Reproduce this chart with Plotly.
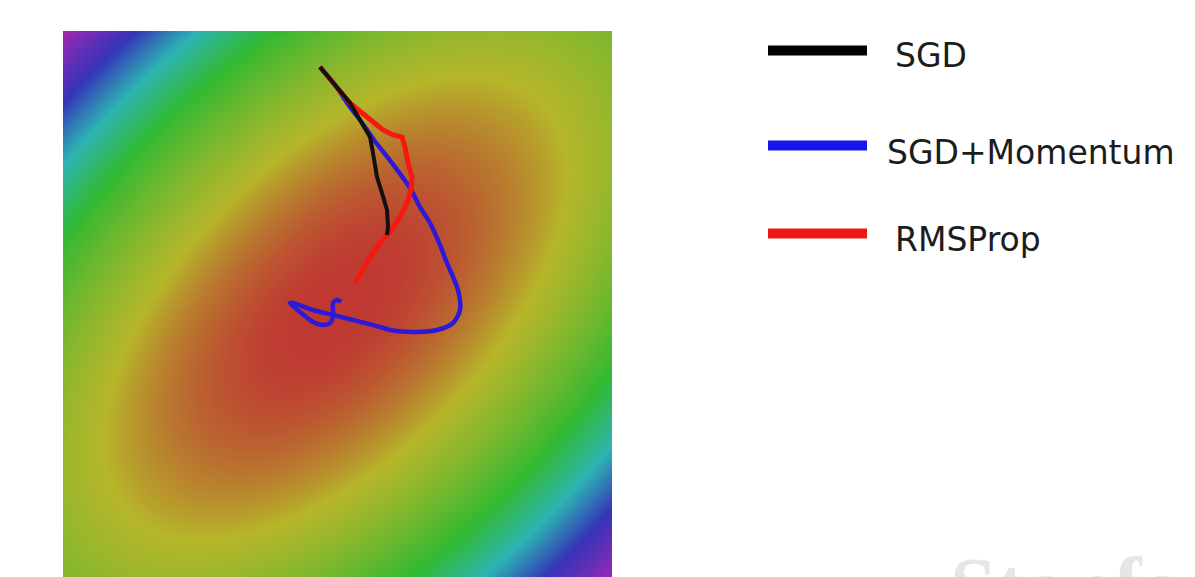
import numpy as np
import plotly.graph_objects as go

# ---- axes (units: original-picture pixels inside the square plot) ----
x_range = [0, 549]
y_range = [3, 549]

# ---- loss surface parameters (elliptic bowl, axes rotated 45 deg) ----
center_x = 272.0
center_y = 272.0
short_len = 549.0     # narrow (steep) direction: top-left <-> bottom-right
long_len = 1060.0     # long (shallow) direction: bottom-left <-> top-right

# ---- optimizer trajectories ----
sgd_x = [257, 272, 287, 297, 307, 310, 314, 319, 324, 325, 324]
sgd_y = [513, 495, 477, 460, 443, 427, 403, 387, 370, 353, 345]

mom_x = [257, 272, 287, 297, 311, 329, 347, 357, 367, 377,
         384, 395, 397, 390, 374, 350, 327, 317, 290, 270,
         250, 230, 227, 237, 250, 260, 267, 270, 270, 270, 274, 278]
mom_y = [513, 495, 473, 460, 440, 417, 392, 373, 357, 335,
         317, 290, 270, 257, 250, 248, 250, 253, 260, 265,
         270, 277, 277, 268, 258, 255, 257, 263, 270, 277, 280, 278]

rms_x = [257, 272, 287, 304, 320, 330, 339, 342, 345, 349, 348, 344, 337, 327, 317, 307, 297, 292]
rms_y = [513, 495, 477, 463, 450, 445, 443, 433, 417, 403, 390, 377, 363, 348, 337, 323, 307, 297]

legend_names = ["SGD", "SGD+Momentum", "RMSProp"]
legend_colors = ["#000000", "rgb(20,20,235)", "rgb(235,25,20)"]

colorscale = [
    [0.00, "rgb(192,56,50)"],
    [0.012, "rgb(190,62,50)"],
    [0.06, "rgb(186,104,48)"],
    [0.15, "rgb(182,182,42)"],
    [0.42, "rgb(50,185,50)"],
    [0.585, "rgb(45,180,178)"],
    [0.76, "rgb(52,52,185)"],
    [1.00, "rgb(160,40,178)"],
]

gx = np.linspace(x_range[0], x_range[1], 221)
gy = np.linspace(0, 549, 221)
GX, GY = np.meshgrid(gx, gy)
dx = GX - center_x
dy = GY - center_y
Z = ((dx - dy) / short_len) ** 2 + ((dx + dy) / long_len) ** 2

fig = go.Figure()
fig.add_trace(go.Heatmap(x=gx, y=gy, z=Z, colorscale=colorscale, zmin=0, zmax=1,
                         zsmooth="best", showscale=False, hoverinfo="skip"))
fig.add_trace(go.Scatter(x=mom_x, y=mom_y, mode="lines", name=legend_names[1],
                         line=dict(color="rgb(45,25,215)", width=4.5, shape="spline", smoothing=0.8)))
fig.add_trace(go.Scatter(x=rms_x, y=rms_y, mode="lines", name=legend_names[2],
                         line=dict(color="rgb(245,25,15)", width=5)))
fig.add_trace(go.Scatter(x=sgd_x, y=sgd_y, mode="lines", name=legend_names[0],
                         line=dict(color="#151010", width=4)))

W, H = 1195, 577
ml, mr, mt, mb = 63, 583, 31, 0
pw, ph = W - ml - mr, H - mt - mb


def px2paper(px, py):
    return (px - ml) / pw, (H - mb - py) / ph


shapes = []
annotations = []
leg_line_y = [50.5, 145.5, 233.5]
leg_text_y = [56, 152, 240]
leg_text_x = [893, 885, 893]
for name, col, ly, ty, tx in zip(legend_names, legend_colors, leg_line_y, leg_text_y, leg_text_x):
    x0, y0 = px2paper(768, ly)
    x1, _ = px2paper(867, ly)
    shapes.append(dict(type="line", xref="paper", yref="paper", x0=x0, x1=x1, y0=y0, y1=y0,
                       line=dict(color=col, width=10)))
    ax, ay = px2paper(tx, ty)
    annotations.append(dict(text=name, xref="paper", yref="paper", x=ax, y=ay,
                            xanchor="left", yanchor="middle", showarrow=False,
                            font=dict(family="DejaVu Sans", size=33, color="#1c1c1c")))

wx, wy = px2paper(948, 539)
annotations.append(dict(text="<b>Stanford</b>", xref="paper", yref="paper", x=wx, y=wy,
                        xanchor="left", yanchor="top", showarrow=False,
                        font=dict(family="Liberation Serif", size=84, color="rgb(230,230,230)")))

fig.update_layout(
    width=W, height=H,
    margin=dict(l=ml, r=mr, t=mt, b=mb, pad=0, autoexpand=False),
    paper_bgcolor="white", plot_bgcolor="white",
    showlegend=False,
    xaxis=dict(range=x_range, visible=False, fixedrange=True),
    yaxis=dict(range=y_range, visible=False, fixedrange=True),
    shapes=shapes, annotations=annotations,
)

fig.write_html("out.html", config={"displayModeBar": False},
               post_script="document.body.style.margin='0';document.body.style.overflow='hidden';")
